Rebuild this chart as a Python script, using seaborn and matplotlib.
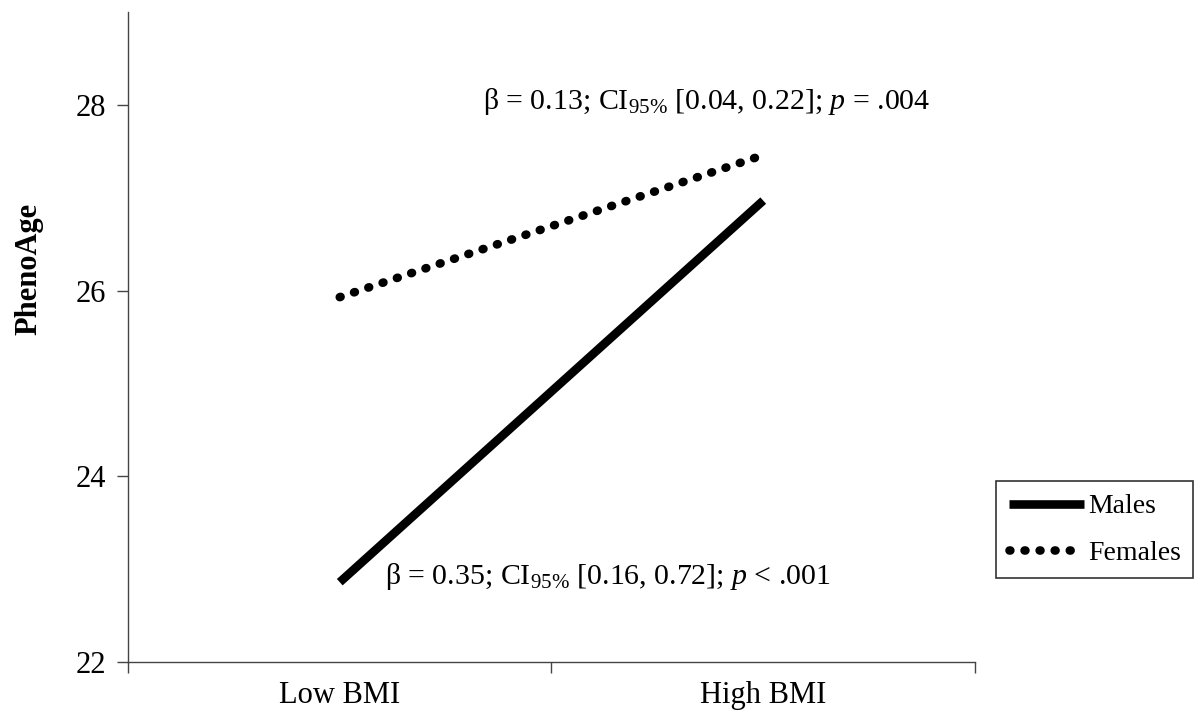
import numpy as np
import pandas as pd
import seaborn as sns
import matplotlib.pyplot as plt

bmi_groups = ["Low BMI", "High BMI"]
sexes = ["Males", "Females"]
males_age = [22.86, 26.97]
females_age = [25.93, 27.46]
beta_top = r"β = 0.13; CI$_{95\%}$ [0.04, 0.22]; $\it{p}$ = .004"
beta_bottom = r"β = 0.35; CI$_{95\%}$ [0.16, 0.72]; $\it{p}$ < .001"

df = pd.DataFrame({
    "bmi": bmi_groups * 2,
    "age": males_age + females_age,
    "sex": ["Males"] * 2 + ["Females"] * 2,
})

sns.set_style("ticks")
plt.rcParams["font.family"] = ["Liberation Serif", "DejaVu Serif"]
plt.rcParams["mathtext.fontset"] = "custom"
plt.rcParams["mathtext.rm"] = "Liberation Serif"
plt.rcParams["mathtext.it"] = "Liberation Serif:italic"
plt.rcParams["text.color"] = "black"
plt.rcParams["axes.labelcolor"] = "black"
plt.rcParams["xtick.labelcolor"] = "black"
plt.rcParams["ytick.labelcolor"] = "black"

fig = plt.figure(figsize=(12.01, 7.13), dpi=100)
ax = fig.add_axes([0.1066, 0.0715, 0.7052, 0.9115])

sns.lineplot(data=df, x="bmi", y="age", hue="sex", style="sex",
             hue_order=sexes, style_order=sexes,
             palette=["black", "black"],
             dashes={"Males": "", "Females": (0.1, 1.65)},
             linewidth=6.2, legend=False, ax=ax)
for ln, lab in zip(ax.lines, sexes):
    ln.set_dash_capstyle("round")
    ln.set_solid_capstyle("butt")
    ln.set_label(lab)

ax.set_xlim(-0.5, 1.5)
ax.set_ylim(22, 29)
ax.set_yticks([22, 24, 26, 28])
ax.set_xticks([-0.5, 0.5, 1.5])
ax.set_xticklabels([])
ax.set_xticks([0, 1], minor=True)
ax.set_xticklabels(bmi_groups, minor=True)
ax.tick_params(axis="x", which="minor", length=0, labelsize=22, pad=14,
               labelcolor="black")
ax.tick_params(axis="x", which="major", length=8, width=1, color="#444444")
ax.tick_params(axis="y", length=8, width=1, labelsize=22, pad=8,
               color="#444444", labelcolor="black")
ax.set_xlabel("")
ax.set_ylabel("PhenoAge", fontsize=22, fontweight="bold", color="black")
ax.yaxis.set_label_coords(-0.1, 0.605)
sns.despine(ax=ax)
for s in ["left", "bottom"]:
    ax.spines[s].set_color("#444444")
    ax.spines[s].set_linewidth(1)

ax.text(0.338, 28.04, beta_top, fontsize=21.5, va="center", ha="left",
        color="black")
ax.text(0.107, 22.92, beta_bottom, fontsize=21.5, va="center", ha="left",
        color="black")

leg = fig.legend(handles=ax.lines[:2], labels=sexes,
                 loc="center", bbox_to_anchor=(0.9115, 0.257),
                 frameon=True, fancybox=False, edgecolor="black",
                 fontsize=20, handlelength=2.7, handletextpad=0.15,
                 borderpad=0.45, labelspacing=0.75, labelcolor="black")
leg.get_frame().set_linewidth(1.2)

fig.savefig("out.png", dpi=100)
